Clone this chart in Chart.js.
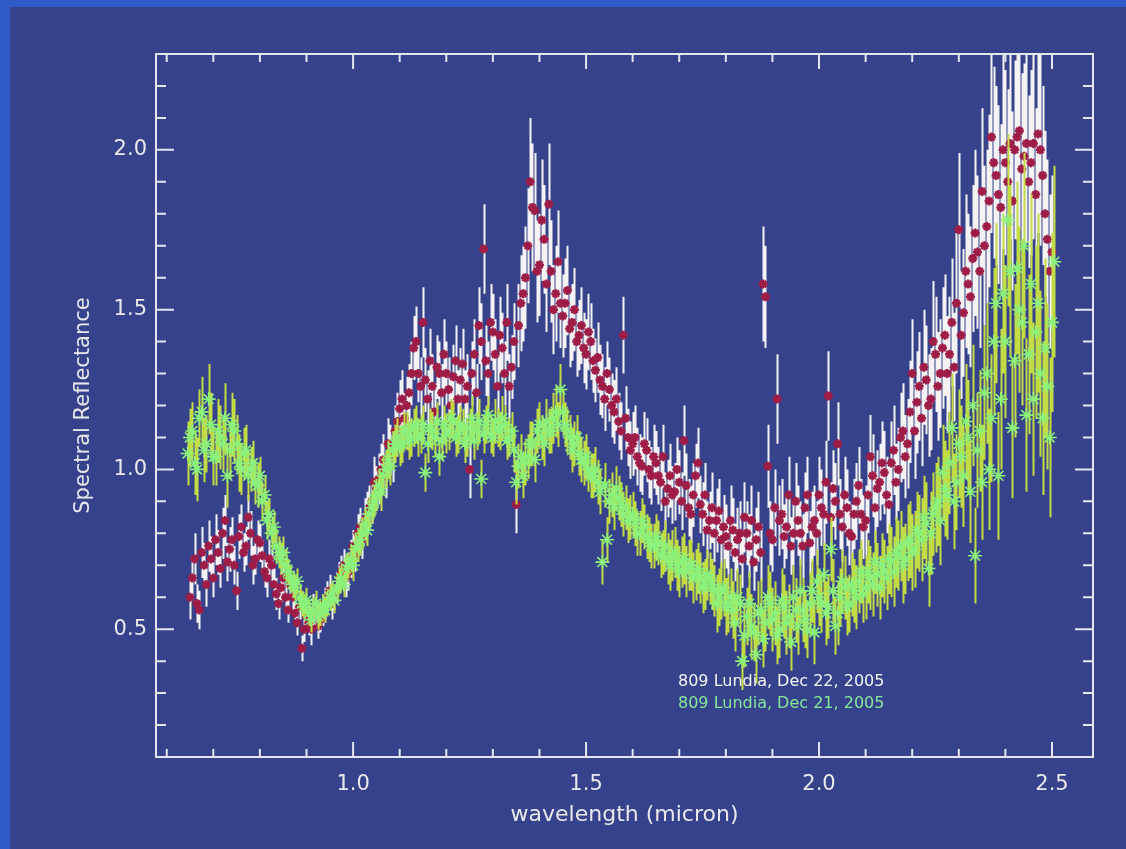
<!DOCTYPE html>
<html>
<head>
<meta charset="utf-8">
<title>809 Lundia spectral reflectance</title>
<script src="https://cdn.jsdelivr.net/npm/chart.js@4.4.1/dist/chart.umd.min.js"></script>
<style>
  html, body { margin: 0; padding: 0; width: 1126px; height: 849px; overflow: hidden; background: #2f5bc8; }
  #panel { position: absolute; left: 10px; top: 7px; width: 1116px; height: 842px; background: #36428b; }
</style>
</head>
<body>
<div id="panel"><canvas id="spectrumChart"></canvas></div>
<script>
// Dec 22, 2005 run (red markers, white error bars)
// first block: samples on the 0.01 grid, second block: the samples between them
const redWave = [
  0.65, 0.66, 0.67, 0.68, 0.69, 0.70, 0.71, 0.72, 0.73, 0.74,
  0.75, 0.76, 0.77, 0.78, 0.79, 0.80, 0.81, 0.82, 0.83, 0.84,
  0.85, 0.86, 0.87, 0.88, 0.89, 0.90, 0.91, 0.92, 0.93, 0.94,
  0.95, 0.96, 0.97, 0.98, 0.99, 1.00, 1.01, 1.02, 1.03, 1.04,
  1.05, 1.06, 1.07, 1.08, 1.09, 1.10, 1.11, 1.12, 1.13, 1.14,
  1.15, 1.16, 1.17, 1.18, 1.19, 1.20, 1.21, 1.22, 1.23, 1.24,
  1.25, 1.26, 1.27, 1.28, 1.29, 1.30, 1.31, 1.32, 1.33, 1.34,
  1.35, 1.36, 1.37, 1.38, 1.39, 1.40, 1.41, 1.42, 1.43, 1.44,
  1.45, 1.46, 1.47, 1.48, 1.49, 1.50, 1.51, 1.52, 1.53, 1.54,
  1.55, 1.56, 1.57, 1.58, 1.59, 1.60, 1.61, 1.62, 1.63, 1.64,
  1.65, 1.66, 1.67, 1.68, 1.69, 1.70, 1.71, 1.72, 1.73, 1.74,
  1.75, 1.76, 1.77, 1.78, 1.79, 1.80, 1.81, 1.82, 1.83, 1.84,
  1.85, 1.86, 1.87, 1.88, 1.89, 1.90, 1.91, 1.92, 1.93, 1.94,
  1.95, 1.96, 1.97, 1.98, 1.99, 2.00, 2.01, 2.02, 2.03, 2.04,
  2.05, 2.06, 2.07, 2.08, 2.09, 2.10, 2.11, 2.12, 2.13, 2.14,
  2.15, 2.16, 2.17, 2.18, 2.19, 2.20, 2.21, 2.22, 2.23, 2.24,
  2.25, 2.26, 2.27, 2.28, 2.29, 2.30, 2.31, 2.32, 2.33, 2.34,
  2.35, 2.36, 2.37, 2.38, 2.39, 2.40, 2.41, 2.42, 2.43, 2.44,
  2.45, 2.46, 2.47, 2.48, 2.49, 2.50,
  0.655, 0.665, 0.675, 0.685, 0.695, 0.705, 0.715, 0.725, 0.735, 0.745,
  0.755, 0.765, 0.775, 0.785, 0.795, 0.805, 0.815, 0.825, 0.835, 0.845,
  0.855, 0.865, 0.875, 0.885, 0.895, 0.905, 0.915, 0.925, 0.935, 0.945,
  0.955, 0.965, 0.975, 0.985, 0.995, 1.005, 1.015, 1.025, 1.035, 1.045,
  1.055, 1.065, 1.075, 1.085, 1.095, 1.105, 1.115, 1.125, 1.135, 1.145,
  1.155, 1.165, 1.175, 1.185, 1.195, 1.205, 1.215, 1.225, 1.235, 1.245,
  1.255, 1.265, 1.275, 1.285, 1.295, 1.305, 1.315, 1.325, 1.335, 1.345,
  1.355, 1.365, 1.375, 1.385, 1.395, 1.405, 1.415, 1.425, 1.435, 1.445,
  1.455, 1.465, 1.475, 1.485, 1.495, 1.505, 1.515, 1.525, 1.535, 1.545,
  1.555, 1.565, 1.575, 1.585, 1.595, 1.605, 1.615, 1.625, 1.635, 1.645,
  1.655, 1.665, 1.675, 1.685, 1.695, 1.705, 1.715, 1.725, 1.735, 1.745,
  1.755, 1.765, 1.775, 1.785, 1.795, 1.805, 1.815, 1.825, 1.835, 1.845,
  1.855, 1.865, 1.875, 1.885, 1.895, 1.905, 1.915, 1.925, 1.935, 1.945,
  1.955, 1.965, 1.975, 1.985, 1.995, 2.005, 2.015, 2.025, 2.035, 2.045,
  2.055, 2.065, 2.075, 2.085, 2.095, 2.105, 2.115, 2.125, 2.135, 2.145,
  2.155, 2.165, 2.175, 2.185, 2.195, 2.205, 2.215, 2.225, 2.235, 2.245,
  2.255, 2.265, 2.275, 2.285, 2.295, 2.305, 2.315, 2.325, 2.335, 2.345,
  2.355, 2.365, 2.375, 2.385, 2.395, 2.405, 2.415, 2.425, 2.435, 2.445,
  2.455, 2.465, 2.475, 2.485, 2.495
];
const redRefl = [
  0.60, 0.72, 0.56, 0.70, 0.76, 0.66, 0.74, 0.80, 0.71, 0.78,
  0.62, 0.82, 0.76, 0.80, 0.72, 0.77, 0.68, 0.72, 0.64, 0.58,
  0.66, 0.56, 0.60, 0.52, 0.44, 0.54, 0.50, 0.55, 0.53, 0.58,
  0.62, 0.60, 0.66, 0.70, 0.68, 0.76, 0.80, 0.78, 0.86, 0.90,
  0.94, 1.00, 0.98, 1.06, 1.12, 1.19, 1.16, 1.24, 1.38, 1.30,
  1.46, 1.22, 1.26, 1.32, 1.24, 1.30, 1.20, 1.34, 1.28, 1.22,
  1.00, 1.36, 1.45, 1.69, 1.30, 1.43, 1.26, 1.38, 1.46, 1.32,
  0.89, 1.52, 1.60, 1.90, 1.81, 1.64, 1.72, 1.83, 1.50, 1.65,
  1.48, 1.56, 1.46, 1.40, 1.45, 1.36, 1.40, 1.31, 1.28, 1.22,
  1.25, 1.18, 1.15, 1.42, 1.10, 1.08, 1.04, 1.01, 1.06, 0.98,
  1.02, 0.96, 0.90, 0.98, 0.93, 0.96, 1.09, 0.88, 0.92, 1.02,
  0.86, 0.81, 0.88, 0.84, 0.78, 0.79, 0.84, 0.74, 0.80, 0.85,
  0.76, 0.71, 0.82, 1.58, 1.01, 0.78, 1.22, 0.86, 0.82, 0.76,
  0.90, 0.80, 0.88, 0.77, 0.84, 0.92, 0.86, 1.23, 0.94, 1.08,
  0.82, 0.88, 0.79, 0.90, 0.86, 0.84, 1.04, 0.88, 0.96, 0.99,
  0.89, 1.06, 1.00, 1.12, 1.08, 1.30, 1.21, 1.16, 1.28, 1.22,
  1.36, 1.30, 1.42, 1.36, 1.32, 1.75, 1.49, 1.58, 1.66, 1.68,
  1.87, 1.76, 2.04, 1.92, 1.82, 1.96, 2.02, 2.00, 2.06, 1.98,
  1.90, 2.02, 2.05, 1.92, 1.72, 1.68,
  0.66, 0.58, 0.74, 0.64, 0.72, 0.78, 0.69, 0.84, 0.75, 0.70,
  0.79, 0.74, 0.85, 0.70, 0.78, 0.73, 0.66, 0.70, 0.61, 0.63,
  0.60, 0.64, 0.55, 0.57, 0.50, 0.52, 0.56, 0.51, 0.56, 0.60,
  0.58, 0.63, 0.68, 0.66, 0.72, 0.74, 0.82, 0.84, 0.88, 0.96,
  0.97, 1.03, 1.08, 1.04, 1.15, 1.22, 1.20, 1.30, 1.40, 1.26,
  1.28, 1.34, 1.18, 1.30, 1.36, 1.25, 1.29, 1.22, 1.33, 1.26,
  1.30, 1.24, 1.40, 1.34, 1.46, 1.36, 1.42, 1.30, 1.26, 1.40,
  1.45, 1.55, 1.70, 1.82, 1.62, 1.78, 1.58, 1.62, 1.55, 1.52,
  1.52, 1.44, 1.50, 1.42, 1.38, 1.43, 1.34, 1.35, 1.26, 1.30,
  1.20, 1.22, 1.12, 1.16, 1.06, 1.10, 1.02, 1.08, 1.00, 1.04,
  0.98, 1.04, 0.94, 0.92, 1.00, 0.90, 0.95, 0.86, 0.98, 0.89,
  0.92, 0.84, 0.80, 0.87, 0.82, 0.76, 0.81, 0.78, 0.72, 0.80,
  0.84, 0.78, 0.74, 1.54, 0.80, 0.88, 0.84, 0.79, 0.92, 0.80,
  0.84, 0.76, 0.92, 0.82, 0.80, 0.88, 0.96, 0.85, 0.90, 0.86,
  0.92, 0.80, 0.86, 0.95, 0.82, 0.92, 0.98, 0.94, 1.02, 0.92,
  1.02, 0.96, 1.10, 1.04, 1.18, 1.12, 1.26, 1.32, 1.20, 1.40,
  1.26, 1.38, 1.30, 1.46, 1.52, 1.42, 1.62, 1.54, 1.74, 1.62,
  1.70, 1.84, 1.96, 1.86, 2.00, 1.90, 1.84, 2.04, 1.94, 2.02,
  1.96, 1.86, 2.00, 1.80, 1.62
];
const redErr = [
  0.07, 0.08, 0.06, 0.07, 0.08, 0.06, 0.07, 0.08, 0.06, 0.07,
  0.06, 0.07, 0.06, 0.07, 0.05, 0.06, 0.05, 0.06, 0.05, 0.05,
  0.05, 0.04, 0.05, 0.04, 0.04, 0.04, 0.05, 0.04, 0.04, 0.05,
  0.05, 0.04, 0.05, 0.05, 0.06, 0.05, 0.06, 0.06, 0.07, 0.07,
  0.07, 0.08, 0.07, 0.08, 0.08, 0.09, 0.08, 0.09, 0.10, 0.09,
  0.11, 0.09, 0.10, 0.10, 0.09, 0.10, 0.09, 0.11, 0.10, 0.09,
  0.09, 0.11, 0.12, 0.14, 0.10, 0.12, 0.10, 0.11, 0.12, 0.10,
  0.09, 0.15, 0.16, 0.20, 0.18, 0.16, 0.17, 0.19, 0.14, 0.16,
  0.13, 0.14, 0.12, 0.11, 0.12, 0.11, 0.12, 0.10, 0.11, 0.10,
  0.10, 0.10, 0.09, 0.12, 0.09, 0.10, 0.09, 0.09, 0.10, 0.09,
  0.10, 0.09, 0.09, 0.10, 0.09, 0.10, 0.11, 0.09, 0.10, 0.11,
  0.10, 0.09, 0.11, 0.10, 0.09, 0.10, 0.11, 0.09, 0.10, 0.11,
  0.10, 0.09, 0.11, 0.18, 0.13, 0.10, 0.14, 0.11, 0.10, 0.09,
  0.12, 0.10, 0.11, 0.10, 0.11, 0.12, 0.11, 0.14, 0.12, 0.13,
  0.11, 0.12, 0.10, 0.12, 0.11, 0.11, 0.13, 0.11, 0.12, 0.13,
  0.12, 0.14, 0.13, 0.15, 0.14, 0.17, 0.16, 0.15, 0.17, 0.16,
  0.18, 0.17, 0.19, 0.18, 0.17, 0.24, 0.20, 0.22, 0.23, 0.24,
  0.26, 0.24, 0.30, 0.28, 0.26, 0.29, 0.30, 0.28, 0.31, 0.29,
  0.27, 0.30, 0.31, 0.28, 0.25, 0.24,
  0.07, 0.06, 0.08, 0.07, 0.07, 0.08, 0.06, 0.08, 0.07, 0.06,
  0.07, 0.06, 0.07, 0.06, 0.06, 0.05, 0.06, 0.05, 0.05, 0.05,
  0.05, 0.05, 0.04, 0.04, 0.04, 0.04, 0.05, 0.04, 0.05, 0.05,
  0.05, 0.05, 0.05, 0.06, 0.06, 0.06, 0.06, 0.07, 0.07, 0.08,
  0.08, 0.08, 0.08, 0.08, 0.09, 0.09, 0.09, 0.10, 0.11, 0.09,
  0.10, 0.10, 0.09, 0.10, 0.11, 0.10, 0.10, 0.09, 0.11, 0.10,
  0.10, 0.09, 0.12, 0.11, 0.12, 0.11, 0.12, 0.10, 0.10, 0.12,
  0.13, 0.15, 0.18, 0.20, 0.16, 0.19, 0.15, 0.16, 0.15, 0.14,
  0.14, 0.12, 0.13, 0.11, 0.11, 0.12, 0.10, 0.11, 0.10, 0.10,
  0.10, 0.10, 0.09, 0.10, 0.09, 0.10, 0.09, 0.10, 0.09, 0.10,
  0.09, 0.10, 0.09, 0.09, 0.10, 0.09, 0.10, 0.09, 0.10, 0.09,
  0.10, 0.09, 0.09, 0.10, 0.10, 0.09, 0.10, 0.10, 0.09, 0.10,
  0.11, 0.10, 0.09, 0.16, 0.10, 0.12, 0.11, 0.10, 0.12, 0.10,
  0.11, 0.10, 0.12, 0.11, 0.10, 0.12, 0.13, 0.11, 0.12, 0.11,
  0.12, 0.10, 0.11, 0.12, 0.10, 0.12, 0.13, 0.12, 0.13, 0.12,
  0.13, 0.12, 0.14, 0.13, 0.16, 0.15, 0.17, 0.18, 0.16, 0.19,
  0.17, 0.19, 0.18, 0.20, 0.22, 0.20, 0.24, 0.22, 0.26, 0.24,
  0.25, 0.27, 0.30, 0.28, 0.31, 0.29, 0.28, 0.32, 0.30, 0.31,
  0.29, 0.27, 0.30, 0.26, 0.24
];

// Dec 21, 2005 run (green asterisks, yellow-green error bars)
const greenWave = [
  0.645, 0.655, 0.665, 0.675, 0.685, 0.695, 0.705, 0.715, 0.725, 0.735,
  0.745, 0.755, 0.765, 0.775, 0.785, 0.795, 0.805, 0.815, 0.825, 0.835,
  0.845, 0.855, 0.865, 0.875, 0.885, 0.895, 0.905, 0.915, 0.925, 0.935,
  0.945, 0.955, 0.965, 0.975, 0.985, 0.995, 1.005, 1.015, 1.025, 1.035,
  1.045, 1.055, 1.065, 1.075, 1.085, 1.095, 1.105, 1.115, 1.125, 1.135,
  1.145, 1.155, 1.165, 1.175, 1.185, 1.195, 1.205, 1.215, 1.225, 1.235,
  1.245, 1.255, 1.265, 1.275, 1.285, 1.295, 1.305, 1.315, 1.325, 1.335,
  1.345, 1.355, 1.365, 1.375, 1.385, 1.395, 1.405, 1.415, 1.425, 1.435,
  1.445, 1.455, 1.465, 1.475, 1.485, 1.495, 1.505, 1.515, 1.525, 1.535,
  1.545, 1.555, 1.565, 1.575, 1.585, 1.595, 1.605, 1.615, 1.625, 1.635,
  1.645, 1.655, 1.665, 1.675, 1.685, 1.695, 1.705, 1.715, 1.725, 1.735,
  1.745, 1.755, 1.765, 1.775, 1.785, 1.795, 1.805, 1.815, 1.825, 1.835,
  1.845, 1.855, 1.865, 1.875, 1.885, 1.895, 1.905, 1.915, 1.925, 1.935,
  1.945, 1.955, 1.965, 1.975, 1.985, 1.995, 2.005, 2.015, 2.025, 2.035,
  2.045, 2.055, 2.065, 2.075, 2.085, 2.095, 2.105, 2.115, 2.125, 2.135,
  2.145, 2.155, 2.165, 2.175, 2.185, 2.195, 2.205, 2.215, 2.225, 2.235,
  2.245, 2.255, 2.265, 2.275, 2.285, 2.295, 2.305, 2.315, 2.325, 2.335,
  2.345, 2.355, 2.365, 2.375, 2.385, 2.395, 2.405, 2.415, 2.425, 2.435,
  2.445, 2.455, 2.465, 2.475, 2.485, 2.495, 2.505,
  0.65, 0.66, 0.67, 0.68, 0.69, 0.70, 0.71, 0.72, 0.73, 0.74,
  0.75, 0.76, 0.77, 0.78, 0.79, 0.80, 0.81, 0.82, 0.83, 0.84,
  0.85, 0.86, 0.87, 0.88, 0.89, 0.90, 0.91, 0.92, 0.93, 0.94,
  0.95, 0.96, 0.97, 0.98, 0.99, 1.00, 1.01, 1.02, 1.03, 1.04,
  1.05, 1.06, 1.07, 1.08, 1.09, 1.10, 1.11, 1.12, 1.13, 1.14,
  1.15, 1.16, 1.17, 1.18, 1.19, 1.20, 1.21, 1.22, 1.23, 1.24,
  1.25, 1.26, 1.27, 1.28, 1.29, 1.30, 1.31, 1.32, 1.33, 1.34,
  1.35, 1.36, 1.37, 1.38, 1.39, 1.40, 1.41, 1.42, 1.43, 1.44,
  1.45, 1.46, 1.47, 1.48, 1.49, 1.50, 1.51, 1.52, 1.53, 1.54,
  1.55, 1.56, 1.57, 1.58, 1.59, 1.60, 1.61, 1.62, 1.63, 1.64,
  1.65, 1.66, 1.67, 1.68, 1.69, 1.70, 1.71, 1.72, 1.73, 1.74,
  1.75, 1.76, 1.77, 1.78, 1.79, 1.80, 1.81, 1.82, 1.83, 1.84,
  1.85, 1.86, 1.87, 1.88, 1.89, 1.90, 1.91, 1.92, 1.93, 1.94,
  1.95, 1.96, 1.97, 1.98, 1.99, 2.00, 2.01, 2.02, 2.03, 2.04,
  2.05, 2.06, 2.07, 2.08, 2.09, 2.10, 2.11, 2.12, 2.13, 2.14,
  2.15, 2.16, 2.17, 2.18, 2.19, 2.20, 2.21, 2.22, 2.23, 2.24,
  2.25, 2.26, 2.27, 2.28, 2.29, 2.30, 2.31, 2.32, 2.33, 2.34,
  2.35, 2.36, 2.37, 2.38, 2.39, 2.40, 2.41, 2.42, 2.43, 2.44,
  2.45, 2.46, 2.47, 2.48, 2.49, 2.50
];
const greenRefl = [
  1.05, 1.12, 1.00, 1.18, 1.08, 1.14, 1.04, 1.10, 1.16, 1.06,
  1.12, 1.02, 1.05, 0.98, 1.02, 0.95, 0.90, 0.84, 0.80, 0.76,
  0.72, 0.70, 0.66, 0.63, 0.60, 0.57, 0.55, 0.56, 0.54, 0.57,
  0.58, 0.61, 0.63, 0.66, 0.69, 0.72, 0.75, 0.78, 0.83, 0.86,
  0.90, 0.95, 0.98, 1.03, 1.06, 1.10, 1.08, 1.12, 1.10, 1.14,
  1.11, 0.99, 1.13, 1.10, 1.04, 1.14, 1.12, 1.15, 1.11, 1.13,
  1.10, 1.16, 1.12, 0.97, 1.14, 1.11, 1.15, 1.12, 1.14, 1.10,
  1.06, 1.01, 0.98, 1.04, 1.08, 1.12, 1.10, 1.15, 1.12, 1.18,
  1.25, 1.14, 1.10, 1.08, 1.05, 1.02, 1.00, 0.98, 0.96, 0.71,
  0.78, 0.92, 0.94, 0.89, 0.88, 0.85, 0.83, 0.80, 0.82, 0.78,
  0.76, 0.77, 0.74, 0.72, 0.73, 0.70, 0.71, 0.68, 0.70, 0.67,
  0.66, 0.64, 0.66, 0.62, 0.60, 0.63, 0.58, 0.56, 0.60, 0.40,
  0.54, 0.51, 0.42, 0.56, 0.52, 0.58, 0.55, 0.50, 0.57, 0.54,
  0.60, 0.51, 0.56, 0.50, 0.62, 0.65, 0.58, 0.55, 0.75, 0.51,
  0.60, 0.63, 0.58, 0.62, 0.65, 0.61, 0.68, 0.64, 0.67, 0.70,
  0.66, 0.71, 0.74, 0.76, 0.72, 0.78, 0.75, 0.80, 0.85, 0.69,
  0.86, 0.90, 0.99, 0.92, 1.13, 0.96, 1.04, 1.15, 0.93, 0.73,
  1.12, 1.24, 1.00, 1.40, 0.98, 1.55, 1.78, 1.13, 1.63, 1.46,
  1.17, 1.58, 1.43, 1.30, 1.38, 1.10, 1.65,
  1.10, 1.02, 1.16, 1.06, 1.22, 1.04, 1.12, 1.08, 0.98, 1.14,
  1.08, 1.00, 1.06, 1.00, 0.96, 0.98, 0.92, 0.86, 0.82, 0.74,
  0.74, 0.68, 0.64, 0.65, 0.58, 0.59, 0.53, 0.58, 0.55, 0.56,
  0.60, 0.59, 0.65, 0.64, 0.70, 0.70, 0.76, 0.80, 0.81, 0.88,
  0.92, 0.93, 1.00, 1.01, 1.08, 1.07, 1.12, 1.09, 1.13, 1.10,
  1.14, 1.08, 1.12, 1.15, 1.09, 1.11, 1.16, 1.10, 1.14, 1.08,
  1.13, 1.09, 1.15, 1.11, 1.17, 1.10, 1.13, 1.16, 1.09, 1.12,
  0.96, 1.04, 1.02, 1.08, 1.03, 1.14, 1.08, 1.12, 1.16, 1.14,
  1.18, 1.12, 1.06, 1.10, 1.03, 1.04, 0.98, 1.00, 0.93, 0.95,
  0.90, 0.88, 0.91, 0.86, 0.84, 0.86, 0.80, 0.84, 0.79, 0.76,
  0.79, 0.73, 0.76, 0.70, 0.74, 0.68, 0.72, 0.70, 0.66, 0.69,
  0.63, 0.67, 0.64, 0.58, 0.62, 0.57, 0.60, 0.52, 0.58, 0.48,
  0.58, 0.49, 0.55, 0.47, 0.60, 0.53, 0.48, 0.59, 0.52, 0.46,
  0.56, 0.62, 0.53, 0.58, 0.49, 0.60, 0.67, 0.57, 0.62, 0.55,
  0.65, 0.57, 0.64, 0.60, 0.68, 0.63, 0.66, 0.71, 0.63, 0.68,
  0.72, 0.68, 0.73, 0.70, 0.77, 0.74, 0.81, 0.78, 0.83, 0.80,
  0.88, 0.84, 0.94, 1.02, 0.90, 1.08, 0.98, 1.10, 1.20, 1.06,
  0.96, 1.30, 1.16, 1.52, 1.22, 1.40, 1.62, 1.34, 1.50, 1.70,
  1.36, 1.22, 1.52, 1.16, 1.26, 1.46
];
const greenErr = [
  0.10, 0.09, 0.10, 0.11, 0.09, 0.10, 0.09, 0.10, 0.11, 0.09,
  0.10, 0.09, 0.08, 0.08, 0.07, 0.07, 0.06, 0.06, 0.05, 0.05,
  0.05, 0.05, 0.04, 0.04, 0.04, 0.04, 0.04, 0.04, 0.04, 0.04,
  0.04, 0.04, 0.04, 0.04, 0.04, 0.04, 0.05, 0.05, 0.05, 0.05,
  0.05, 0.05, 0.06, 0.06, 0.06, 0.06, 0.06, 0.06, 0.06, 0.06,
  0.06, 0.06, 0.06, 0.06, 0.06, 0.06, 0.06, 0.06, 0.06, 0.06,
  0.06, 0.07, 0.06, 0.06, 0.06, 0.06, 0.07, 0.06, 0.06, 0.06,
  0.07, 0.07, 0.07, 0.07, 0.07, 0.07, 0.07, 0.07, 0.07, 0.08,
  0.08, 0.07, 0.07, 0.07, 0.07, 0.07, 0.07, 0.07, 0.07, 0.07,
  0.07, 0.07, 0.07, 0.07, 0.07, 0.07, 0.07, 0.07, 0.07, 0.07,
  0.07, 0.07, 0.07, 0.08, 0.08, 0.08, 0.08, 0.08, 0.08, 0.08,
  0.08, 0.08, 0.08, 0.08, 0.09, 0.09, 0.09, 0.09, 0.09, 0.09,
  0.09, 0.10, 0.09, 0.10, 0.09, 0.10, 0.10, 0.09, 0.10, 0.10,
  0.10, 0.09, 0.10, 0.09, 0.10, 0.10, 0.09, 0.10, 0.10, 0.09,
  0.09, 0.10, 0.09, 0.10, 0.10, 0.09, 0.10, 0.10, 0.10, 0.10,
  0.10, 0.11, 0.11, 0.11, 0.11, 0.12, 0.12, 0.12, 0.13, 0.12,
  0.13, 0.14, 0.15, 0.14, 0.17, 0.15, 0.16, 0.18, 0.16, 0.15,
  0.19, 0.21, 0.19, 0.23, 0.20, 0.25, 0.27, 0.22, 0.27, 0.26,
  0.24, 0.28, 0.27, 0.26, 0.28, 0.25, 0.30,
  0.09, 0.10, 0.09, 0.10, 0.11, 0.09, 0.10, 0.09, 0.10, 0.10,
  0.09, 0.08, 0.08, 0.07, 0.07, 0.06, 0.06, 0.05, 0.05, 0.05,
  0.05, 0.04, 0.04, 0.04, 0.04, 0.04, 0.04, 0.04, 0.04, 0.04,
  0.04, 0.04, 0.04, 0.04, 0.04, 0.05, 0.05, 0.05, 0.05, 0.05,
  0.05, 0.06, 0.06, 0.06, 0.06, 0.06, 0.06, 0.06, 0.06, 0.06,
  0.06, 0.06, 0.06, 0.06, 0.06, 0.06, 0.06, 0.06, 0.06, 0.06,
  0.06, 0.06, 0.07, 0.06, 0.06, 0.06, 0.06, 0.07, 0.06, 0.06,
  0.07, 0.07, 0.07, 0.07, 0.07, 0.07, 0.07, 0.07, 0.08, 0.07,
  0.07, 0.07, 0.07, 0.07, 0.07, 0.07, 0.07, 0.07, 0.07, 0.07,
  0.07, 0.07, 0.07, 0.07, 0.07, 0.07, 0.07, 0.07, 0.07, 0.07,
  0.07, 0.07, 0.08, 0.08, 0.08, 0.08, 0.08, 0.08, 0.08, 0.08,
  0.08, 0.08, 0.08, 0.09, 0.09, 0.09, 0.09, 0.09, 0.09, 0.10,
  0.10, 0.09, 0.10, 0.09, 0.10, 0.10, 0.09, 0.10, 0.10, 0.09,
  0.10, 0.10, 0.09, 0.10, 0.10, 0.09, 0.10, 0.10, 0.10, 0.10,
  0.10, 0.09, 0.10, 0.10, 0.10, 0.10, 0.10, 0.10, 0.10, 0.10,
  0.11, 0.11, 0.11, 0.12, 0.12, 0.12, 0.12, 0.13, 0.13, 0.13,
  0.14, 0.14, 0.15, 0.16, 0.15, 0.17, 0.16, 0.18, 0.19, 0.18,
  0.18, 0.22, 0.20, 0.25, 0.22, 0.24, 0.27, 0.24, 0.26, 0.29,
  0.25, 0.24, 0.28, 0.24, 0.26, 0.28
];

// axis ticks (IDL style: labelled majors, inward minors on all four sides)
const xMajorTicks = [1.0, 1.5, 2.0, 2.5];
const xMinorTicks = [0.6, 0.7, 0.8, 0.9, 1.1, 1.2, 1.3, 1.4, 1.6, 1.7, 1.8, 1.9, 2.1, 2.2, 2.3, 2.4];
const yMajorTicks = [0.5, 1.0, 1.5, 2.0];
const yMinorTicks = [0.2, 0.3, 0.4, 0.6, 0.7, 0.8, 0.9, 1.1, 1.2, 1.3, 1.4, 1.6, 1.7, 1.8, 1.9, 2.1, 2.2];

const legendLabels = ['809 Lundia, Dec 22, 2005', '809 Lundia, Dec 21, 2005'];

const axisColor = '#e6e6ee';
const textColor = '#e8e8ec';

Chart.defaults.font.family = "'DejaVu Sans', sans-serif";

// vertical error bars, painted just before each dataset's markers
const errorBarPlugin = {
    id: 'errorBars',
    beforeDatasetDraw(chart, args) {
        const ds = chart.data.datasets[args.index];
        if (!ds.errors) return;
        const { ctx, chartArea, scales: { x, y } } = chart;
        ctx.save();
        ctx.beginPath();
        ctx.rect(chartArea.left, chartArea.top, chartArea.right - chartArea.left, chartArea.bottom - chartArea.top);
        ctx.clip();
        ctx.strokeStyle = ds.errorColor;
        ctx.lineWidth = 2;
        ctx.beginPath();
        ds.data.forEach((pt, i) => {
            const px = Math.round(x.getPixelForValue(pt.x)) + 0.5;
            ctx.moveTo(px, y.getPixelForValue(pt.y - ds.errors[i]));
            ctx.lineTo(px, y.getPixelForValue(pt.y + ds.errors[i]));
        });
        ctx.stroke();
        ctx.restore();
    }
};

// box frame with inward ticks on every side
const frameAxesPlugin = {
    id: 'frameAxes',
    afterDatasetsDraw(chart) {
        const { ctx, chartArea: a, scales: { x, y } } = chart;
        ctx.save();
        ctx.strokeStyle = axisColor;
        ctx.lineWidth = 2;
        ctx.strokeRect(a.left, a.top, a.right - a.left, a.bottom - a.top);
        ctx.beginPath();
        const xTick = (v, len) => {
            const px = x.getPixelForValue(v);
            ctx.moveTo(px, a.bottom); ctx.lineTo(px, a.bottom - len);
            ctx.moveTo(px, a.top); ctx.lineTo(px, a.top + len);
        };
        const yTick = (v, len) => {
            const py = y.getPixelForValue(v);
            ctx.moveTo(a.left, py); ctx.lineTo(a.left + len, py);
            ctx.moveTo(a.right, py); ctx.lineTo(a.right - len, py);
        };
        xMajorTicks.forEach(v => xTick(v, 15));
        xMinorTicks.forEach(v => xTick(v, 8));
        yMajorTicks.forEach(v => yTick(v, 18));
        yMinorTicks.forEach(v => yTick(v, 10));
        ctx.stroke();
        ctx.restore();
    }
};

// plain coloured text legend inside the plot, as in the original
const textLegendPlugin = {
    id: 'textLegend',
    afterDraw(chart) {
        const { ctx } = chart;
        ctx.save();
        ctx.font = "16px 'DejaVu Sans', sans-serif";
        ctx.textAlign = 'left';
        ctx.textBaseline = 'middle';
        chart.data.datasets.slice().reverse().forEach((ds, i) => {
            ctx.fillStyle = ds.legendColor;
            ctx.fillText(ds.label, 668, 675 + i * 22);
        });
        ctx.restore();
    }
};

const toPoints = (wave, refl) => wave.map((w, i) => ({ x: w, y: refl[i] }));

const ctx = document.getElementById('spectrumChart').getContext('2d');
new Chart(ctx, {
    type: 'scatter',
    data: {
        datasets: [
            {
                label: legendLabels[1],
                data: toPoints(greenWave, greenRefl),
                errors: greenErr,
                errorColor: '#c4dc44',
                legendColor: '#86e89a',
                pointStyle: 'star',
                pointRadius: 7,
                pointBorderWidth: 1.6,
                borderColor: '#8af27c',
                backgroundColor: '#8af27c',
                order: 0
            },
            {
                label: legendLabels[0],
                data: toPoints(redWave, redRefl),
                errors: redErr,
                errorColor: '#f4f2f4',
                legendColor: '#f4f4f4',
                pointStyle: 'star',
                pointRadius: 4.5,
                pointBorderWidth: 2.5,
                borderColor: '#9e1c46',
                backgroundColor: '#9e1c46',
                order: 1
            }
        ]
    },
    options: {
        responsive: true,
        maintainAspectRatio: false,
        animation: false,
        events: [],
        layout: { padding: { top: 47, right: 33, left: 0, bottom: 0 } },
        plugins: {
            legend: { display: false },
            tooltip: { enabled: false }
        },
        scales: {
            x: {
                type: 'linear',
                min: 0.577,
                max: 2.588,
                grid: { display: false, drawTicks: false },
                border: { display: false },
                afterBuildTicks: (scale) => { scale.ticks = xMajorTicks.map(v => ({ value: v })); },
                afterFit: (scale) => { scale.height = 92; },
                ticks: {
                    color: textColor,
                    font: { size: 21 },
                    padding: 15,
                    maxRotation: 0,
                    autoSkip: false,
                    callback: (v) => Number(v).toFixed(1)
                },
                title: {
                    display: true,
                    text: 'wavelength (micron)',
                    color: textColor,
                    font: { size: 22 },
                    padding: { top: 0, bottom: 21 }
                }
            },
            y: {
                type: 'linear',
                min: 0.1,
                max: 2.3,
                grid: { display: false, drawTicks: false },
                border: { display: false },
                afterBuildTicks: (scale) => { scale.ticks = yMajorTicks.map(v => ({ value: v })); },
                afterFit: (scale) => { scale.width = 146; },
                ticks: {
                    color: textColor,
                    font: { size: 21 },
                    padding: 9,
                    autoSkip: false,
                    callback: (v) => Number(v).toFixed(1)
                },
                title: {
                    display: true,
                    text: 'Spectral Reflectance',
                    color: textColor,
                    font: { size: 21 },
                    padding: { top: 61, bottom: 0 }
                }
            }
        }
    },
    plugins: [errorBarPlugin, frameAxesPlugin, textLegendPlugin]
});
</script>
</body>
</html>
